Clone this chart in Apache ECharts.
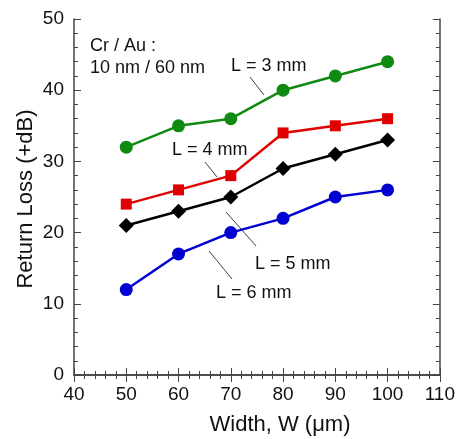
<!DOCTYPE html>
<html><head><meta charset="utf-8">
<script src="https://cdn.jsdelivr.net/npm/echarts@6/dist/echarts.min.js"></script>
<style>html,body{margin:0;padding:0;background:#fff}#c{width:458px;height:439px}</style>
</head><body><div id="c"></div>
<script>
const widths = [50, 60, 70, 80, 90, 100];
const L3 = [32, 35, 36, 40, 42, 44];
const L4 = [24, 26, 28, 34, 35, 36];
const L5 = [21, 23, 25, 29, 31, 33];
const L6 = [12, 17, 20, 22, 25, 26];
const seriesNames = ['L = 3 mm', 'L = 4 mm', 'L = 5 mm', 'L = 6 mm'];
const xTitle = 'Width, W (μm)';
const yTitle = 'Return Loss (+dB)';

const F = 'Liberation Sans, Arial, sans-serif';
const chart = echarts.init(document.getElementById('c'));
const axisLine = {show: true, lineStyle: {color: '#444', width: 1.5}};
const tick = {show: true, inside: true, length: 7, lineStyle: {color: '#444', width: 1}};
const minor = {show: true, splitNumber: 5, length: 4, lineStyle: {color: '#444', width: 1}};
function xa(pos, labels) {
  return {type: 'value', position: pos, min: 40, max: 110, interval: 10,
    axisLine, axisTick: tick, minorTick: minor,
    splitLine: {show: false}, minorSplitLine: {show: false},
    axisLabel: {show: labels, color: '#111', fontFamily: F, fontSize: 19, margin: 10}};
}
function ya(pos, labels) {
  return {type: 'value', position: pos, min: 0, max: 50, interval: 10,
    axisLine, axisTick: tick, minorTick: minor,
    splitLine: {show: false}, minorSplitLine: {show: false},
    axisLabel: {show: labels, color: '#111', fontFamily: F, fontSize: 19, margin: 10}};
}
function mk(name, vals, color, symbol, size) {
  return {name, type: 'line', xAxisIndex: 0, yAxisIndex: 0,
    data: widths.map((w, i) => [w, vals[i]]),
    symbol, symbolSize: size, showSymbol: true,
    lineStyle: {color, width: 2.5}, itemStyle: {color}, z: 3};
}
// y given as text baseline
const txt = (x, y, t) => ({type: 'text', x, y: y - 14, style: {text: t, font: '18px ' + F, fill: '#111'}});
const ln = (x1, y1, x2, y2) => ({type: 'line', shape: {x1, y1, x2, y2}, style: {stroke: '#111', lineWidth: 0.8}});
chart.setOption({
  animation: false,
  grid: {left: 74, right: 16, top: 19, bottom: 64},
  xAxis: [xa('bottom', true), xa('top', false)],
  yAxis: [ya('left', true), ya('right', false)],
  series: [
    mk(seriesNames[0], L3, '#118a11', 'circle', 13),
    mk(seriesNames[1], L4, '#e00000', 'rect', 11),
    mk(seriesNames[2], L5, '#000000', 'diamond', 15),
    mk(seriesNames[3], L6, '#0000d0', 'circle', 13)
  ],
  graphic: [
    {type: 'text', x: 280, y: 414, style: {text: xTitle, font: '22px ' + F, fill: '#111', textAlign: 'center'}},
    {type: 'text', x: 26, y: 199, rotation: Math.PI / 2, style: {text: yTitle, font: '22px ' + F, fill: '#111', textAlign: 'center', textVerticalAlign: 'middle'}},
    txt(90, 51, 'Cr / Au :'),
    txt(90, 73, '10 nm / 60 nm'),
    txt(231, 71, seriesNames[0]), ln(250, 77, 264, 95),
    txt(172, 155, seriesNames[1]), ln(205, 162, 217, 177),
    txt(255, 269, seriesNames[2]), ln(226, 212, 256, 246),
    txt(216, 298, seriesNames[3]), ln(209, 251, 232, 279)
  ]
});
</script></body></html>
